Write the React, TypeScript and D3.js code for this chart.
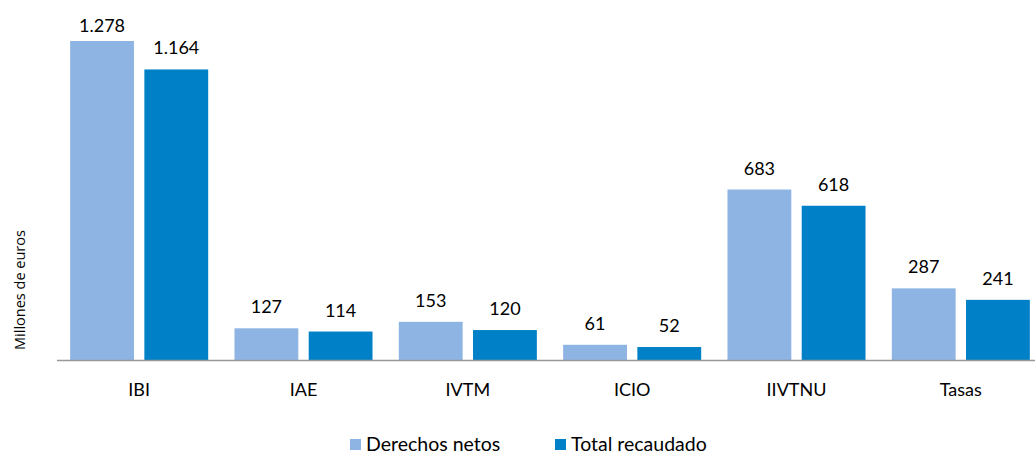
import { useEffect, useRef } from 'react';
import * as d3 from 'd3';

const categories = ['IBI', 'IAE', 'IVTM', 'ICIO', 'IIVTNU', 'Tasas'];
const seriesNames = ['Derechos netos', 'Total recaudado'];
const derechosNetos = [1278, 127, 153, 61, 683, 287];
const totalRecaudado = [1164, 114, 120, 52, 618, 241];
const colors = ['#8EB4E3', '#0080C6'];

const fmt = (v: number) => d3.format(',')(v).replace(/,/g, '.');

export default function App() {
    const svgRef = useRef<SVGSVGElement>(null);

    useEffect(() => {
        if (!svgRef.current) return;
        const svg = d3.select(svgRef.current);
        svg.selectAll('*').remove();

        const font = 'Lato, "Open Sans", sans-serif';
        const baseY = 360;
        const series = [derechosNetos, totalRecaudado];

        const x0 = d3.scaleBand<string>()
            .domain(categories)
            .range([57, 1043])
            .paddingInner(0.16)
            .paddingOuter(0.08);

        const x1 = d3.scaleBand<string>()
            .domain(seriesNames)
            .range([0, x0.bandwidth()])
            .paddingInner(0.14);

        const y = d3.scaleLinear()
            .domain([0, 1400])
            .range([baseY, baseY - 1400 * 0.2496]);

        const groups = svg.append('g')
            .selectAll('g')
            .data(categories)
            .join('g')
            .attr('transform', d => `translate(${x0(d)},0)`);

        seriesNames.forEach((name, si) => {
            groups.append('rect')
                .attr('x', x1(name)!)
                .attr('y', (_, i) => y(series[si][i]))
                .attr('width', x1.bandwidth())
                .attr('height', (_, i) => baseY - y(series[si][i]))
                .attr('fill', colors[si]);

            // labels sit ~15px above the bar, clamped at the top of the plot
            groups.append('text')
                .attr('x', x1(name)! + x1.bandwidth() / 2)
                .attr('y', (_, i) => Math.max(32, y(series[si][i]) - 15))
                .attr('text-anchor', 'middle')
                .attr('font-family', font)
                .attr('font-size', 18)
                .attr('fill', '#000')
                .text((_, i) => fmt(series[si][i]));
        });

        // axis line
        svg.append('line')
            .attr('x1', 57)
            .attr('x2', 1035)
            .attr('y1', baseY + 0.5)
            .attr('y2', baseY + 0.5)
            .attr('stroke', '#999')
            .attr('stroke-width', 1.5);

        svg.append('g')
            .selectAll('text')
            .data(categories)
            .join('text')
            .attr('x', d => x0(d)! + x0.bandwidth() / 2)
            .attr('y', 396)
            .attr('text-anchor', 'middle')
            .attr('font-family', font)
            .attr('font-size', 18)
            .attr('fill', '#000')
            .text(d => d);

        svg.append('text')
            .attr('transform', 'translate(25,290) rotate(-90)')
            .attr('text-anchor', 'middle')
            .attr('font-family', '"Open Sans", sans-serif')
            .attr('font-size', 14.5)
            .attr('fill', '#000')
            .text('Millones de euros');

        const legendX = [350, 555];
        const legend = svg.append('g')
            .selectAll('g')
            .data(seriesNames)
            .join('g')
            .attr('transform', (_, i) => `translate(${legendX[i]},439)`);
        legend.append('rect')
            .attr('width', 11)
            .attr('height', 11)
            .attr('fill', (_, i) => colors[i]);
        legend.append('text')
            .attr('x', 16)
            .attr('y', 11.5)
            .attr('font-family', font)
            .attr('font-size', 19.5)
            .attr('fill', '#000')
            .text(d => d);
    }, []);

    return (
        <svg ref={svgRef} width={1035} height={453}
            style={{ position: 'absolute', left: 0, top: 0 }}></svg>
    );
}
